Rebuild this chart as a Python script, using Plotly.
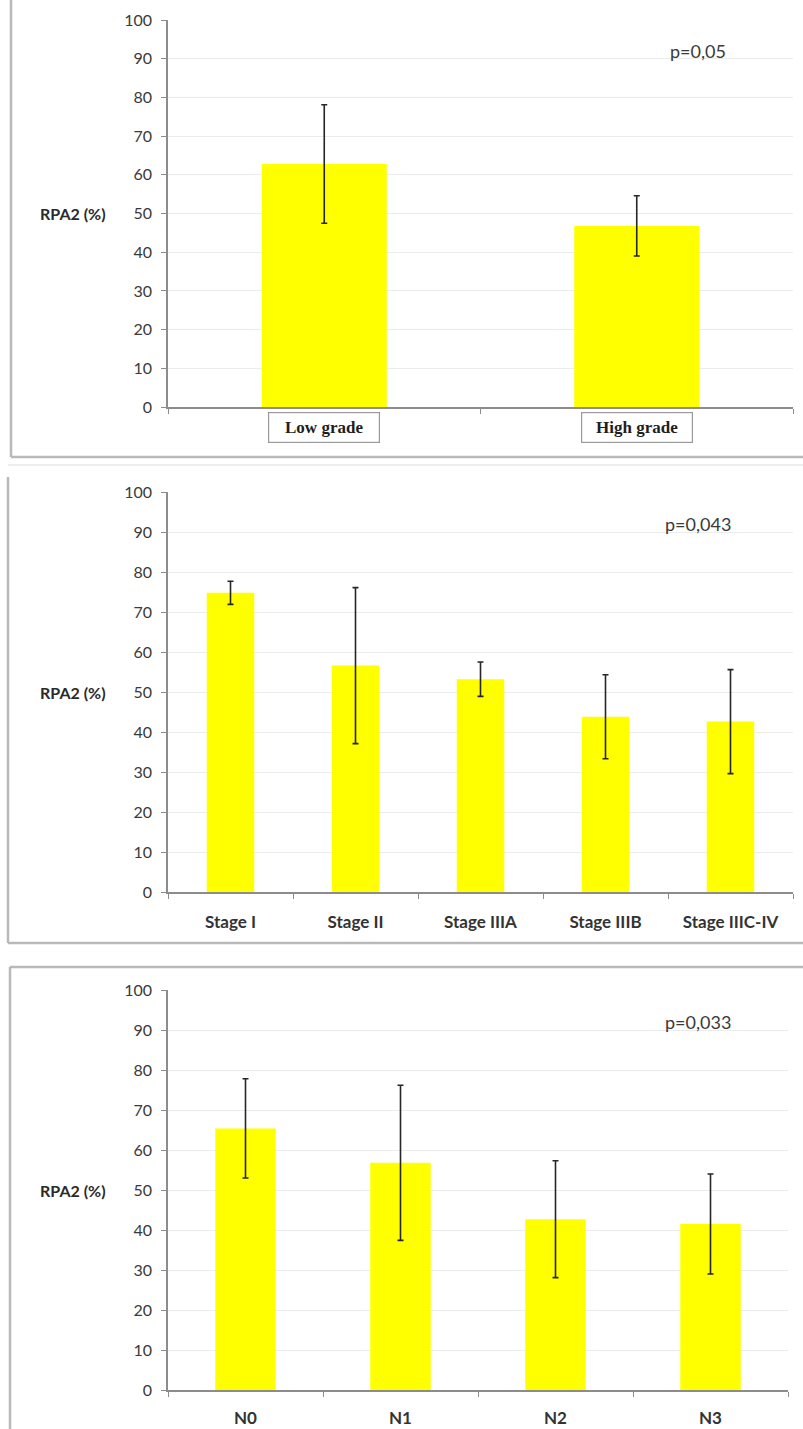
import plotly.graph_objects as go

W, H = 803, 1429

# --- data -------------------------------------------------------------
grade_labels = ["Low grade", "High grade"]
grade_values = [62.8, 46.8]
grade_err = [15.3, 7.8]
grade_p = "p=0,05"

stage_labels = ["Stage I", "Stage II", "Stage IIIA", "Stage IIIB", "Stage IIIC-IV"]
stage_values = [74.8, 56.6, 53.2, 43.8, 42.6]
stage_err = [2.9, 19.5, 4.3, 10.5, 13.0]
stage_p = "p=0,043"

node_labels = ["N0", "N1", "N2", "N3"]
node_values = [65.4, 56.8, 42.7, 41.5]
node_err = [12.4, 19.4, 14.6, 12.5]
node_p = "p=0,033"

y_ticks = list(range(0, 101, 10))
y_title = "RPA2 (%)"

# --- styling helpers --------------------------------------------------
def px_x(x):
    return x / W

def px_y(y):
    return 1 - y / H

BAR = "#FFFF00"
AXIS = "#8c8c8c"
GRID = "#ececec"
TXT = "#3a3a3a"
FONT = "Lato"

# panel geometry in pixels: (x_left, x_right, y_zero, y_hundred), bar width, label standoff
panels = [
    (grade_labels, grade_values, grade_err, grade_p, (168, 793, 407, 20), 0.40, 10),
    (stage_labels, stage_values, stage_err, stage_p, (168, 793, 892, 492), 0.38, 14),
    (node_labels, node_values, node_err, node_p, (168, 788, 1390, 990), 0.39, 12),
]

fig = go.Figure()
layout = dict(
    width=W, height=H, margin=dict(l=0, r=0, t=0, b=0, autoexpand=False),
    paper_bgcolor="white", plot_bgcolor="white",
    showlegend=False, annotations=[], shapes=[],
)

for i, (cats, vals, errs, ptxt, (xl, xr, y0, y100), bw, stand) in enumerate(panels, start=1):
    sx = "" if i == 1 else str(i)
    fig.add_trace(go.Bar(
        x=cats, y=vals, width=bw,
        marker=dict(color=BAR, line=dict(width=0)),
        error_y=dict(type="data", array=errs, visible=True,
                     color="#262626", thickness=1.6, width=3),
        xaxis="x" + sx, yaxis="y" + sx,
        hoverinfo="skip",
    ))
    top = px_y(y100)
    bot = px_y(y0)
    layout["xaxis" + sx] = dict(
        domain=[px_x(xl), px_x(xr)], anchor="y" + sx, automargin=False,
        type="category", categoryorder="array", categoryarray=cats,
        showline=True, linecolor=AXIS, linewidth=1.5,
        ticks="outside", tickson="boundaries", ticklen=5, tickcolor=AXIS,
        showgrid=False, zeroline=False,
        showticklabels=(i != 1),
        tickfont=dict(family=FONT, size=17, color="#333333", weight="bold"),
        ticklabelstandoff=stand,
        fixedrange=True,
    )
    layout["yaxis" + sx] = dict(
        domain=[bot, top], anchor="x" + sx, range=[0, 100], automargin=False,
        tickvals=y_ticks, ticks="outside", ticklen=5, tickcolor=AXIS,
        showline=True, linecolor=AXIS, linewidth=1.5,
        showgrid=True, gridcolor=GRID, gridwidth=1, zeroline=False,
        tickfont=dict(family=FONT, size=16, color=TXT),
        ticklabelstandoff=6,
        fixedrange=True,
    )
    # axis title, set horizontally to the left of the tick labels
    layout["annotations"].append(dict(
        text="<b>" + y_title + "</b>", xref="paper", yref="y" + sx,
        x=px_x(73), y=50, xanchor="center", yanchor="middle", showarrow=False,
        font=dict(family=FONT, size=16, color="#2a2a2a"),
    ))
    # significance label
    layout["annotations"].append(dict(
        text=ptxt, xref="paper", yref="y" + sx,
        x=px_x(698), y=92, xanchor="center", yanchor="middle", showarrow=False,
        font=dict(family=FONT, size=18, color=TXT),
    ))

# boxed category labels of the grade panel
for c in grade_labels:
    layout["annotations"].append(dict(
        text="<b>" + c + "</b>", xref="x", yref="paper",
        x=c, y=px_y(427.5), xanchor="center", yanchor="middle", showarrow=False,
        width=108, height=27, bordercolor="#9a9a9a", borderwidth=1.2,
        bgcolor="white",
        font=dict(family="Liberation Serif", size=17, color="#1e1e1e"),
    ))

# panel frames
FRAME = "#b9b9b9"
def line(x0, y0, x1, y1, w=2.5, c=FRAME):
    layout["shapes"].append(dict(
        type="line", xref="paper", yref="paper",
        x0=px_x(x0), y0=px_y(y0), x1=px_x(x1), y1=px_y(y1),
        line=dict(color=c, width=w),
    ))

line(11, 0, 11, 457)
line(11, 457, 803, 457)
line(8, 465, 803, 465, w=1, c="#dcdcdc")
line(8, 477, 8, 943)
line(8, 943, 803, 943)
line(10, 967, 803, 967)
line(10, 967, 10, 1429)

fig.update_layout(**layout)
fig.write_html("out.html")
